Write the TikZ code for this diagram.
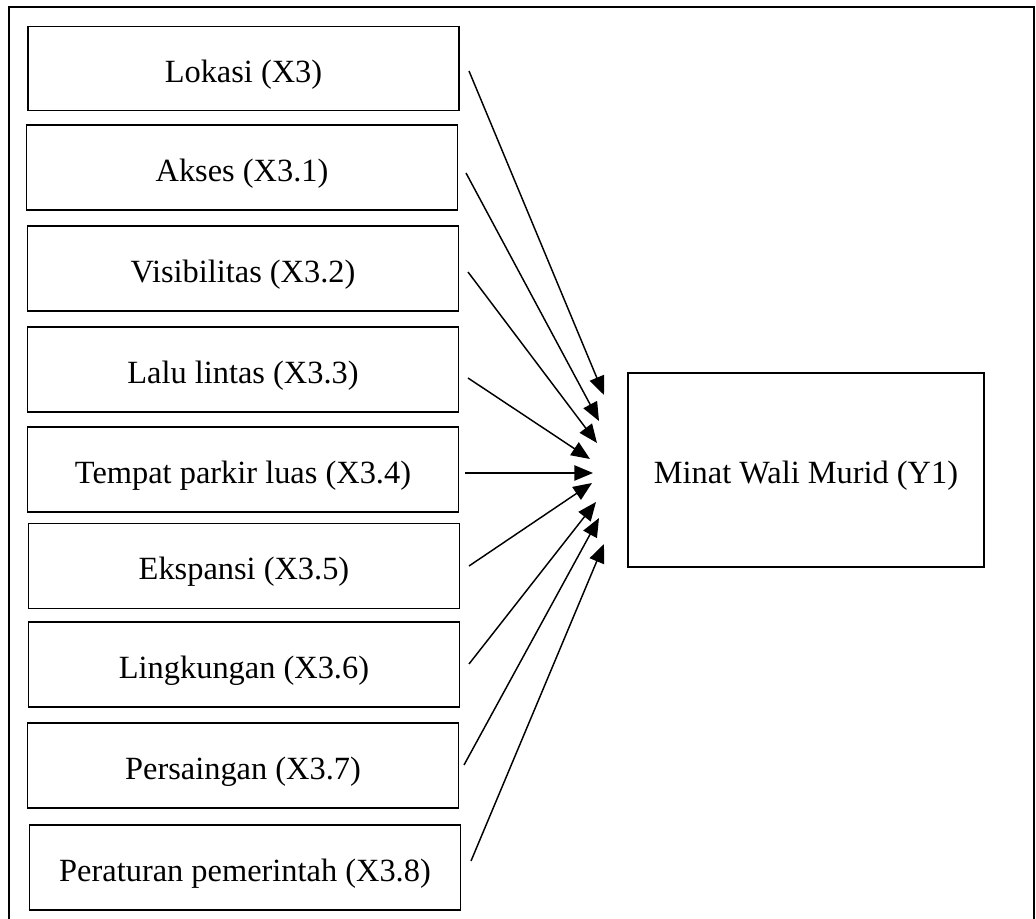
\documentclass[tikz,border=0pt]{standalone}
\usepackage{fontspec}
\setmainfont{Liberation Serif}
\usetikzlibrary{arrows.meta}
\begin{document}
\begin{tikzpicture}[x=0.75pt,y=-0.75pt,
  varbox/.style={draw,line width=1.1pt,rectangle,minimum width=323.25pt,minimum height=63.75pt,inner sep=0pt,text height=20.5pt,text depth=0pt,font=\fontsize{24.3}{29}\selectfont},
  ybox/.style={draw,line width=1.1pt,rectangle,minimum width=267pt,minimum height=145.5pt,inner sep=0pt,text height=21pt,text depth=0pt,font=\fontsize{24.3}{29}\selectfont},
  conn/.style={line width=1.1pt,-{Triangle[length=14pt,width=11.5pt]}},
  frame/.style={line width=1.6pt}]
\useasboundingbox (0,0) rectangle (1036,919);
\draw[frame] (9,925) -- (9,7) -- (1034,7) -- (1034,925);
\node[varbox,minimum height=63pt] (b1) at (243.5,68.5) {Lokasi (X3)};
\node[varbox] (b2) at (242,167.5) {Akses (X3.1)};
\node[varbox] (b3) at (243,268.5) {Visibilitas (X3.2)};
\node[varbox] (b4) at (243,369.5) {Lalu lintas (X3.3)};
\node[varbox] (b5) at (243,469.5) {Tempat parkir luas (X3.4)};
\node[varbox] (b6) at (244,566) {Ekspansi (X3.5)};
\node[varbox] (b7) at (244,664.5) {Lingkungan (X3.6)};
\node[varbox] (b8) at (243,765.5) {Persaingan (X3.7)};
\node[varbox] (b9) at (245,867.5) {Peraturan pemerintah (X3.8)};
\node[ybox] (y) at (806,470) {Minat Wali Murid (Y1)};
\coordinate (s1) at (469,71);
\coordinate (s2) at (466,173);
\coordinate (s3) at (468,272);
\coordinate (s4) at (468,378);
\coordinate (s5) at (465,473);
\coordinate (s6) at (469,566);
\coordinate (s7) at (469,664);
\coordinate (s8) at (464,765);
\coordinate (s9) at (471,861);
\coordinate (t1) at (604,395);
\coordinate (t2) at (599,421);
\coordinate (t3) at (597,443);
\coordinate (t4) at (590,459);
\coordinate (t5) at (593,473);
\coordinate (t6) at (592,483);
\coordinate (t7) at (596,502);
\coordinate (t8) at (599,518);
\coordinate (t9) at (604,544);
\foreach \i in {1,...,9} {\draw[conn] (s\i) -- (t\i);}
\end{tikzpicture}
\end{document}
